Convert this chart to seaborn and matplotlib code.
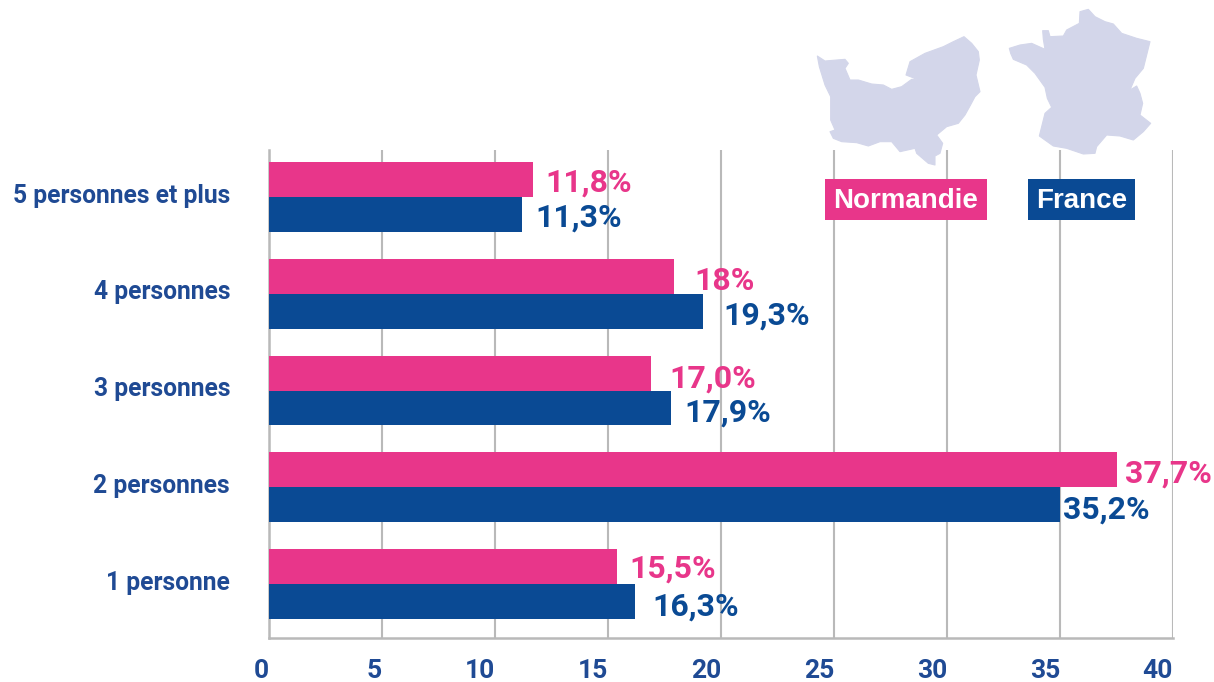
import matplotlib
matplotlib.use("Agg")
import matplotlib.pyplot as plt
import matplotlib.transforms as mtransforms
from matplotlib.patches import Polygon, Rectangle
import pandas as pd
import seaborn as sns

categories = ["5 personnes et plus", "4 personnes", "3 personnes", "2 personnes", "1 personne"]
normandie = [11.7, 17.9, 16.9, 37.5, 15.4]
france = [11.2, 19.2, 17.8, 35.0, 16.2]
normandie_labels = ["11,8%", "18%", "17,0%", "37,7%", "15,5%"]
france_labels = ["11,3%", "19,3%", "17,9%", "35,2%", "16,3%"]
xticks = [0, 5, 10, 15, 20, 25, 30, 35, 40]

PINK = "#e8368a"
BLUE = "#0a4a94"
LABEL_BLUE = "#1f4a94"
MAP = "#d3d6ea"
GRID = "#b9b9b9"
FONT = "Roboto"

W, H = 1214, 682

# label gap from bar end and vertical shift, in pixels
normandie_dx = [12, 21, 18, 8, 12]
normandie_dy = [3, 5, 5, 4, 2]
france_dx = [13, 20, 13, 3, 17]
france_dy = [3, 4, 5, 5, 5]

# map outlines, in pixels
normandie_map = [(52,168),(75,183),(110,180),(135,178),(145,190),(135,205),(150,240),(175,240),
    (215,252),(250,255),(275,268),(305,260),(335,238),(352,238),(318,225),(330,185),(375,160),
    (430,140),(460,125),(492,110),(515,130),(535,155),(538,180),(528,225),(540,275),(525,290),
    (510,318),(495,345),(475,370),(440,380),(410,405),(428,430),(420,460),(405,468),(405,495),
    (385,490),(350,460),(345,445),(300,455),(275,425),(240,425),(205,438),(170,428),(125,425),
    (100,415),(90,395),(105,390),(92,360),(92,290),(75,255),(58,200)]
france_map = [(628,145),(660,135),(695,130),(735,148),(730,118),(728,92),(745,92),(750,110),
    (790,108),(800,90),(838,70),(840,35),(865,28),(885,50),(915,65),(940,72),(965,100),(1010,115),
    (1050,125),(1040,165),(1030,205),(1005,235),(990,270),(1010,258),(1020,280),(1028,310),
    (1020,345),(1052,370),(1030,395),(1000,420),(960,408),(920,405),(890,440),(885,460),(850,462),
    (800,445),(760,438),(718,408),(735,340),(755,322),(742,295),(735,262),(705,220),(680,195),
    (640,178),(632,160)]

sns.set_theme(style="white")

df = pd.DataFrame({
    "cat": categories * 2,
    "val": normandie + france,
    "zone": ["Normandie"] * 5 + ["France"] * 5,
})

fig = plt.figure(figsize=(W / 100, H / 100), dpi=100)
ax = fig.add_axes([269 / W, 1 - 638 / H, (1173 - 269) / W, (638 - 150) / H])

sns.barplot(data=df, y="cat", x="val", hue="zone", order=categories, hue_order=["Normandie", "France"],
            palette=[PINK, BLUE], width=0.72, gap=0, saturation=1, legend=False, linewidth=0, ax=ax, zorder=3)

ax.set_xlim(0, 40)
ax.set_ylim(4.558, -0.486)
ax.set_xlabel("")
ax.set_ylabel("")
ax.set_xticks(xticks)
ax.grid(axis="x", color=GRID, linewidth=1.5, zorder=0)
ax.grid(axis="y", visible=False)
ax.set_axisbelow(True)
sns.despine(ax=ax, top=True, right=True)
for side in ["left", "bottom"]:
    ax.spines[side].set_color(GRID)
    ax.spines[side].set_linewidth(1.8)
ax.tick_params(axis="both", length=0)
ax.tick_params(axis="y", pad=28)
ax.tick_params(axis="x", pad=15)

# x tick labels end on their grid line
for t in ax.get_xticklabels():
    t.set_horizontalalignment("right")
    t.set_fontfamily(FONT)
    t.set_fontweight("bold")
    t.set_fontsize(19)
    t.set_color(LABEL_BLUE)
for t in ax.get_yticklabels():
    t.set_transform(t.get_transform() + mtransforms.ScaledTranslation(0, 4 / 100, fig.dpi_scale_trans))
    t.set_fontfamily(FONT)
    t.set_fontweight("bold")
    t.set_fontsize(17.7)
    t.set_color(LABEL_BLUE)

# value labels
def put_labels(values, labels, dxs, dys, color, side):
    for i, (v, lab, dx, dy) in enumerate(zip(values, labels, dxs, dys)):
        ax.annotate(lab, (v, i + side * 0.18), xytext=(dx * 0.72, -dy * 0.72),
                    textcoords="offset points", va="center", ha="left", color=color,
                    fontsize=23, fontweight="bold", fontfamily=FONT, zorder=5)

put_labels(normandie, normandie_labels, normandie_dx, normandie_dy, PINK, -1)
put_labels(france, france_labels, france_dx, france_dy, BLUE, 1)

# maps, zoom crop pixels -> figure pixels
def to_fig(points):
    return [((800 + x / 3) / W, 1 - (y / 3) / H) for x, y in points]

fig.add_artist(Polygon(to_fig(normandie_map), closed=True, facecolor=MAP, edgecolor=MAP, linewidth=0.8,
                       joinstyle="round", zorder=4))
fig.add_artist(Polygon(to_fig(france_map), closed=True, facecolor=MAP, edgecolor=MAP, linewidth=0.8,
                       joinstyle="round", zorder=4))

# legend boxes
fig.add_artist(Rectangle((825 / W, 1 - 220 / H), 162 / W, 41 / H, facecolor=PINK, edgecolor="none", zorder=6))
fig.add_artist(Rectangle((1028 / W, 1 - 220 / H), 107 / W, 41 / H, facecolor=BLUE, edgecolor="none", zorder=6))
fig.text(906 / W, 1 - 201 / H, "Normandie", color="white", fontsize=20, fontweight="bold",
         fontfamily="Liberation Sans", ha="center", va="center", zorder=7)
fig.text(1081.5 / W, 1 - 201 / H, "France", color="white", fontsize=20, fontweight="bold",
         fontfamily="Liberation Sans", ha="center", va="center", zorder=7)

fig.savefig("out.png", dpi=100, facecolor="white")
